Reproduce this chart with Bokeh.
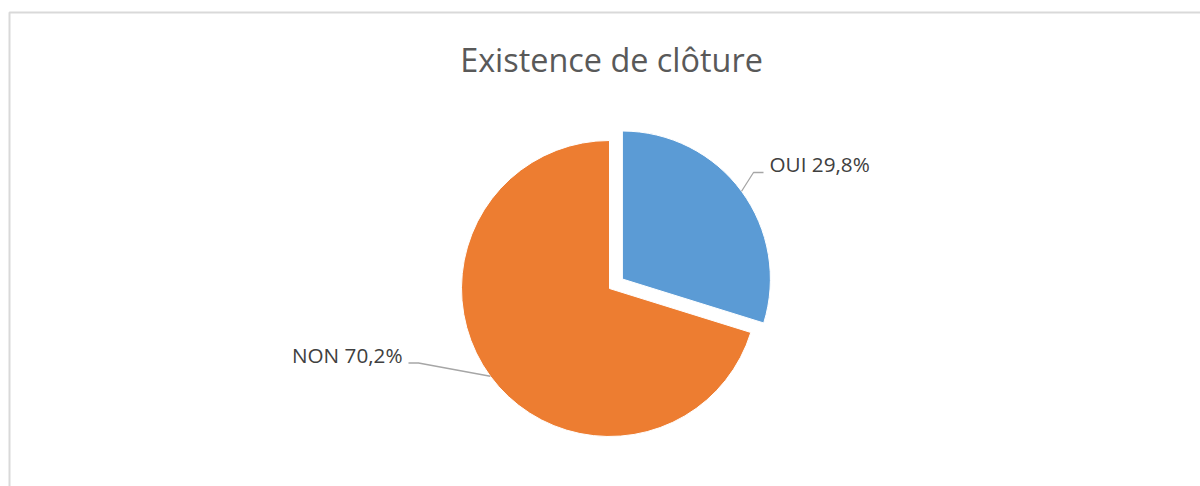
import math
from bokeh.plotting import figure
from bokeh.models import Range1d
from bokeh.core.properties import value
from bokeh.embed import file_html
from bokeh.resources import INLINE

# ---- data ----
categories = ["OUI", "NON"]
percents = [29.8, 70.2]
label_texts = ["OUI 29,8%", "NON 70,2%"]
colors = ["#5B9BD5", "#ED7D31"]
exploded = [True, False]
title_text = "Existence de clôture"

W, H = 1200, 486
def sy(y):  # screen y -> data y
    return H - y

p = figure(width=W, height=H, x_range=Range1d(0, W), y_range=Range1d(0, H),
           x_axis_type=None, y_axis_type=None, toolbar_location=None,
           output_backend="svg", min_border=0)
p.grid.visible = False
p.outline_line_color = None
p.background_fill_color = "white"
p.border_fill_color = "white"

# chart frame (cropped by window on right/bottom)
p.line([9, 9, 1200], [sy(486), sy(12), sy(12)], line_color="#D9D9D9", line_width=2)

# title
p.text(x=[611], y=[sy(58)], text=[title_text], text_font=value("Open Sans"),
       text_font_size="32.4px", text_color="#595959", text_align="center",
       text_baseline="alphabetic")

# pie
cx, cy = 609, sy(288)
r = 148
explode = 16
total = sum(percents)
start = 90.0
mids = []
for cat, pct, col, ex in zip(categories, percents, colors, exploded):
    sweep = pct / total * 360.0
    a_end = start
    a_start = start - sweep
    mid = math.radians((a_start + a_end) / 2)
    ox, oy = (explode * math.cos(mid), explode * math.sin(mid)) if ex else (0, 0)
    p.wedge(x=[cx + ox], y=[cy + oy], radius=r,
            start_angle=[math.radians(a_start)], end_angle=[math.radians(a_end)],
            fill_color=col, line_color="white", line_width=1)
    mids.append((mid, cx + ox, cy + oy))
    start = a_start

# labels with leader lines
# OUI (right side)
mid, ccx, ccy = mids[0]
x0, y0 = ccx + r * math.cos(mid), ccy + r * math.sin(mid)
p.line([x0, 753, 763], [y0, sy(172), sy(172)], line_color="#A6A6A6", line_width=1.3)
p.text(x=[769], y=[sy(163.5)], text=[label_texts[0]], text_font=value("Open Sans"),
       text_font_size="20.7px", text_color="#404040", text_align="left",
       text_baseline="alphabetic")

# NON (left side)
mid, ccx, ccy = mids[1]
x0, y0 = ccx + r * math.cos(mid), ccy + r * math.sin(mid)
p.line([x0, 418, 408], [y0, sy(362.5), sy(362.5)], line_color="#A6A6A6", line_width=1.3)
p.text(x=[402], y=[sy(354.5)], text=[label_texts[1]], text_font=value("Open Sans"),
       text_font_size="20.7px", text_color="#404040", text_align="right",
       text_baseline="alphabetic")

open("out.html", "w").write(file_html(p, INLINE))
